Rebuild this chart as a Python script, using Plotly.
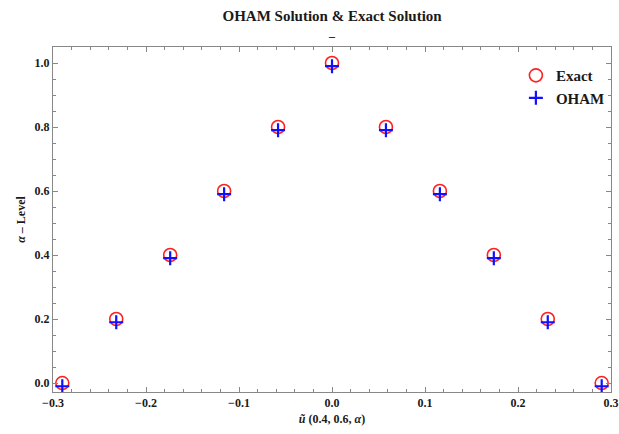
import plotly.graph_objects as go

alpha_levels = [0.0, 0.2, 0.4, 0.6, 0.8, 1.0, 0.8, 0.6, 0.4, 0.2, 0.0]
u_values = [-0.29, -0.232, -0.174, -0.116, -0.058, 0.0, 0.058, 0.116, 0.174, 0.232, 0.29]
exact_alpha = alpha_levels
oham_alpha = [-0.01, 0.19, 0.39, 0.59, 0.79, 0.99, 0.79, 0.59, 0.39, 0.19, -0.01]

FONT = "Liberation Serif"
TXT = "#1a1a1a"

fig = go.Figure()
fig.add_trace(go.Scatter(
    x=u_values, y=exact_alpha, mode="markers", name="Exact",
    marker=dict(symbol="circle-open", size=13, color="#ff2020", line=dict(width=1.6, color="#ff2020")),
))
fig.add_trace(go.Scatter(
    x=u_values, y=oham_alpha, mode="markers", name="OHAM",
    marker=dict(symbol="cross-thin", size=10, color="#1010ff", line=dict(width=2.2, color="#1010ff")),
))

axis_common = dict(
    showgrid=False, zeroline=False, showline=True, linecolor="#888888", linewidth=1,
    mirror="ticks", ticks="inside", ticklen=5, tickcolor="#888888", automargin=False,
    tickfont=dict(family=FONT, size=12, color=TXT, weight="bold"),
)

fig.update_layout(
    width=619, height=434,
    margin=dict(l=53, r=8, t=47, b=42),
    plot_bgcolor="white", paper_bgcolor="white",
    font=dict(family=FONT, color=TXT),
    title=dict(text="<b>OHAM Solution & Exact Solution</b>", x=0.5365, xanchor="center",
               y=0.963, yanchor="middle", font=dict(family=FONT, size=15, color=TXT)),
    xaxis=dict(range=[-0.3, 0.3], dtick=0.1, tick0=0, tickformat=".1f",
               minor=dict(dtick=0.02, ticks="inside", ticklen=3, tickcolor="#888888"),
               title=dict(text="<b><i>ũ</i> (0.4, 0.6, <i>α</i>)</b>", font=dict(family=FONT, size=12), standoff=5),
               **axis_common),
    yaxis=dict(range=[-0.028, 1.05], dtick=0.2, tick0=0, tickformat=".1f",
               minor=dict(dtick=0.05, ticks="inside", ticklen=3, tickcolor="#888888"),
               title=dict(text="<b><i>α</i> – Level</b>", font=dict(family=FONT, size=12), standoff=6),
               **axis_common),
    legend=dict(x=0.998, xanchor="right", y=0.965, yanchor="top", bgcolor="rgba(0,0,0,0)",
                font=dict(family=FONT, size=15, color=TXT, weight="bold"), itemwidth=30, tracegroupgap=0),
    showlegend=True,
)
fig.add_annotation(text="<b>–</b>", xref="paper", yref="paper", x=0.5, y=1.006, yanchor="bottom",
                   showarrow=False, font=dict(family=FONT, size=12, color=TXT))
fig.write_html("out.html")
